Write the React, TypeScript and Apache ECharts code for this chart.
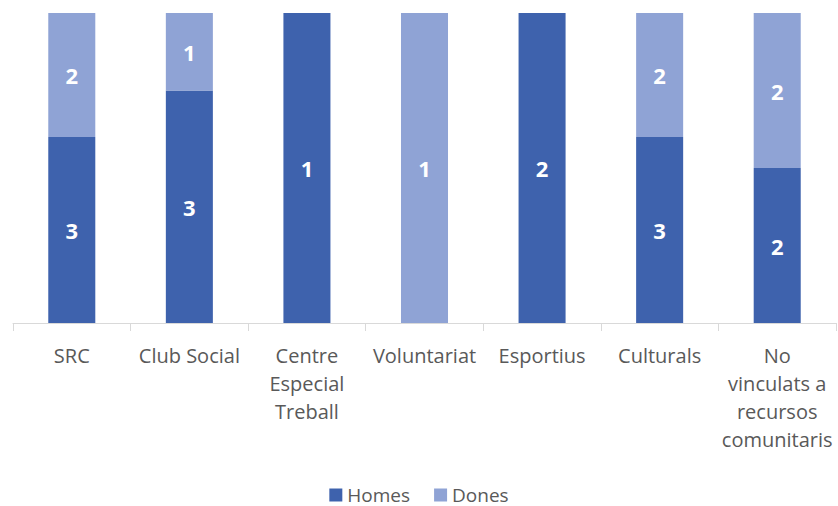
import React, { useEffect, useRef } from "react";
import * as echarts from "echarts";

const categories = ["SRC", "Club Social", "Centre Especial Treball", "Voluntariat", "Esportius", "Culturals", "No vinculats a recursos comunitaris"];
const tickLabels = ["SRC", "Club Social", "Centre\nEspecial\nTreball", "Voluntariat", "Esportius", "Culturals", "No\nvinculats a\nrecursos\ncomunitaris"];
const homes = [3, 3, 1, 0, 2, 3, 2];
const dones = [2, 1, 0, 1, 0, 2, 2];

export default function App() {
  const ref = useRef<HTMLDivElement>(null);
  useEffect(() => {
    const chart = echarts.init(ref.current!, null, { renderer: "svg" });
    const totals = homes.map((h, i) => h + dones[i]);
    const pct = (arr: number[]) => arr.map((v, i) => ({ value: totals[i] ? (v / totals[i]) * 100 : 0, raw: v }));
    const labelCfg = {
      show: true,
      position: "inside",
      color: "#ffffff",
      fontWeight: "bold",
      fontSize: 22,
      fontFamily: "Open Sans",
      formatter: (p: any) => (p.data.raw ? String(p.data.raw) : ""),
    };
    chart.setOption({
      animation: false,
      grid: { left: 13, right: 2, top: 13, bottom: 183 },
      legend: {
        top: 480,
        left: "center",
        itemWidth: 13,
        itemHeight: 13,
        itemGap: 24,
        icon: "rect",
        textStyle: { color: "#595959", fontSize: 19, lineHeight: 20, fontFamily: "Open Sans" },
        data: ["Homes", "Dones"],
      },
      xAxis: {
        type: "category",
        data: categories,
        axisLine: { lineStyle: { color: "#d9d9d9", width: 1 } },
        axisTick: { show: true, length: 8, lineStyle: { color: "#d9d9d9" } },
        axisLabel: {
          color: "#595959",
          fontSize: 20,
          fontFamily: "Open Sans",
          margin: 18,
          lineHeight: 28,
          interval: 0,
          formatter: (_v: string, i: number) => tickLabels[i],
        },
      },
      yAxis: {
        type: "value",
        min: 0,
        max: 100,
        show: false,
        splitLine: { show: false },
      },
      series: [
        {
          name: "Homes",
          type: "bar",
          stack: "t",
          barWidth: "40%",
          itemStyle: { color: "#3E62AD" },
          label: labelCfg,
          data: pct(homes),
        },
        {
          name: "Dones",
          type: "bar",
          stack: "t",
          barWidth: "40%",
          itemStyle: { color: "#8FA3D5" },
          label: labelCfg,
          data: pct(dones),
        },
      ],
    });
    return () => chart.dispose();
  }, []);
  return <div ref={ref} style={{ position: "fixed", left: 0, top: 0, width: 838, height: 506, background: "#fff" }} />;
}
